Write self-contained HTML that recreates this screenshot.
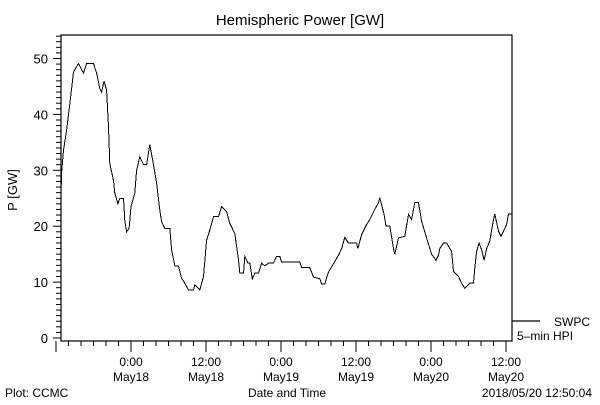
<!DOCTYPE html>
<html><head><meta charset="utf-8"><style>
body{margin:0;background:#fff;}
svg text{font-family:"Liberation Sans",sans-serif;fill:#000;}
</style></head><body>
<svg id="chart" width="600" height="400" viewBox="0 0 600 400" xmlns="http://www.w3.org/2000/svg">
<rect x="0" y="0" width="600" height="400" fill="#fff"/>
<text x="300" y="25" font-size="15" text-anchor="middle">Hemispheric Power [GW]</text>
<rect x="61" y="35" width="451" height="306" fill="none" stroke="#000" stroke-width="1.2"/>
<g id="yaxis"></g>
<g id="xaxis"></g>
<text transform="translate(17,190) rotate(-90)" font-size="13" text-anchor="middle">P [GW]</text>
<text x="287" y="397" font-size="12" text-anchor="middle">Date and Time</text>
<text x="5" y="397" font-size="12">Plot: CCMC</text>
<text x="592" y="397" font-size="12" text-anchor="end">2018/05/20 12:50:04</text>
<line x1="512" y1="321" x2="540" y2="321" stroke="#000" stroke-width="1.2"/>
<text x="590" y="326" font-size="12" text-anchor="end">SWPC</text>
<text x="517" y="340" font-size="12">5–min HPI</text>
<path id="series" fill="none" stroke="#000" stroke-width="1" shape-rendering="crispEdges"/>
</svg>
<script>
const hours=[0,0.1,0.4,0.9,1.3,1.7,2.0,2.2,2.8,3.3,3.6,4.1,5.2,5.7,6.2,6.5,6.9,7.3,7.6,7.8,8.4,8.6,9.1,9.4,10.0,10.2,10.5,10.9,11.2,11.8,12.1,12.6,13.2,13.7,14.2,14.8,15.3,15.8,16.1,16.6,17.4,17.7,18.2,18.8,19.3,19.8,20.4,21.2,21.4,22.2,22.8,23.3,23.8,24.4,25.2,25.7,26.5,27.0,27.8,28.4,28.6,29.2,29.4,29.9,30.2,30.6,31.0,31.6,32.1,32.6,33.2,34.0,34.5,35.0,35.3,38.2,38.5,39.8,40.4,41.4,41.7,42.2,42.8,43.6,44.4,44.9,45.4,46.0,47.3,47.5,48.1,48.9,49.4,50.2,50.8,51.0,51.7,52.0,52.6,53.2,53.4,54.0,55.0,55.6,56.1,56.6,57.2,57.7,58.5,59.3,60.0,60.4,60.6,61.2,61.7,62.5,62.8,63.6,64.1,64.6,65.4,66.0,66.2,66.5,66.9,67.3,67.7,68.1,68.6,69.2,69.4,70.0,70.4,70.8,71.3,71.6,72.2];
const power=[25.9,29.5,33.6,37.2,40.8,44.6,47.6,48,49.1,48,47.4,49.1,49.1,47.4,44.6,44,46,44.3,37.8,31.2,28.2,25.9,24,25,25,21,19,19.6,23.5,25.9,30,32.4,31,31,34.6,31,27.7,22.9,20.8,19.6,19.6,15.8,12.9,12.9,10.7,9.8,8.6,8.6,9.5,8.6,11,17.5,19.3,21.7,21.7,23.5,22.6,20.5,18.7,14,11.6,11.6,14.6,13.4,13.4,10.6,11.6,11.6,13.4,12.9,13.4,13.4,14.6,14.6,13.6,13.6,12.6,12.6,10.9,10.6,9.7,9.7,11.8,13.3,14.8,16,18,17,17,16,18.5,20.3,21.2,23,24.2,25.1,22.1,20,20,16,15,17.9,18.2,22.1,21.2,24.2,24.2,20.9,17.9,15,13.9,14.8,16,17,17,15.5,11.9,11,9.8,8.9,9.8,9.8,12.5,15.5,17,15.8,13.9,16,17.3,21.2,22.2,19.1,18.2,19.1,20.3,22.2,22.2];
const yTickLabels=[0,10,20,30,40,50];
const xTickHours=[11.2,23.2,35.2,47.2,59.2,71.2];
const xTickTimes=["0:00","12:00","0:00","12:00","0:00","12:00"];
const xTickDates=["May18","May18","May19","May19","May20","May20"];
const NS="http://www.w3.org/2000/svg";
const X0=61,PXH=6.25,Y0=338,PXV=5.59;
function xs(h){return X0+h*PXH;}
function ys(v){return Y0-v*PXV;}
function mk(tag,attrs,parent){const e=document.createElementNS(NS,tag);for(const k in attrs)e.setAttribute(k,attrs[k]);parent.appendChild(e);return e;}
const ya=document.getElementById('yaxis'),xa=document.getElementById('xaxis');
for(let v=0;v<=54;v++){
  const y=ys(v);const major=v%10===0;
  const t=mk('line',{x1:major?53:56,x2:61,y1:y,y2:y,stroke:'#000','stroke-width':1},ya);
  
  
}
yTickLabels.forEach(v=>{
  const t=mk('text',{x:48,y:ys(v)+5,'font-size':13,'text-anchor':'end'},ya);
  t.textContent=v;
  
  
});
for(let h=-0.8;h<=72.3;h+=2){
  const x=xs(h);const major=Math.abs(((h-11.2)%12+12)%12)<0.01;
  const t=mk('line',{x1:x,x2:x,y1:341,y2:major?352:346,stroke:'#000','stroke-width':1},xa);
  
  
}
xTickHours.forEach((h,i)=>{
  const a=mk('text',{x:xs(h),y:366,'font-size':12,'text-anchor':'middle'},xa);
  a.textContent=xTickTimes[i];
  
  
  const b=mk('text',{x:xs(h),y:381,'font-size':12,'text-anchor':'middle'},xa);
  b.textContent=xTickDates[i];
  
  
});
let d='';
hours.forEach((h,i)=>{d+=(i?'L':'M')+xs(h).toFixed(1)+','+ys(power[i]).toFixed(1);});
document.getElementById('series').setAttribute('d',d);
</script>
</body></html>
